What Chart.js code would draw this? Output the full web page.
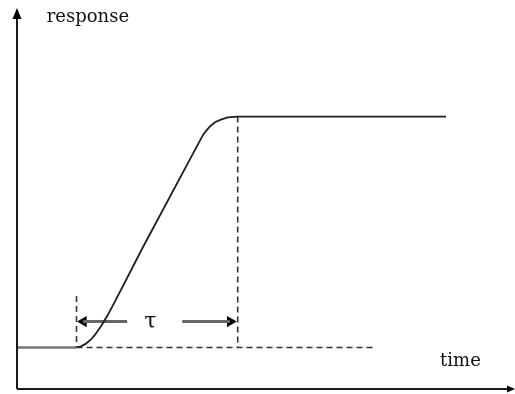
<!DOCTYPE html>
<html lang="en">
<head>
<meta charset="UTF-8">
<title>response</title>
<script src="https://cdn.jsdelivr.net/npm/chart.js@4.4.1/dist/chart.umd.min.js"></script>
<style>
  body { margin: 0; background: #fff; }
</style>
</head>
<body>
<canvas id="myChart" width="515" height="394"></canvas>
<script>
// step response, time and response in arbitrary units (axes go 0..100)
var curveTime     = [0, 11.9, 12.9, 13.9, 14.9, 15.7, 16.9, 18.3, 20.6, 25.3, 37.5, 38.1, 38.9, 39.9, 41.1, 42.5, 44.4, 86.5]
var curveResponse = [10.9, 10.9, 11.2, 11.9, 13.0, 14.2, 16.4, 19.4, 25.1, 37.0, 66.7, 67.7, 68.9, 70.0, 70.7, 71.3, 71.5, 71.5]

// dashed guide lines
var baseLineTime = [12.0, 71.8]
var baseLineResp = [10.9, 10.9]
var startMarkTime = [12.0, 12.0]
var startMarkResp = [24.4, 10.9]
var endMarkTime = [44.5, 44.5]
var endMarkResp = [71.5, 10.9]

// tau arrows: shafts and arrow heads
var tauResp = 17.7
var leftShaftTime = [13.3, 22.2]
var rightShaftTime = [33.3, 42.9]
var headTime = [13.4, 43.0]
var headRotation = [-90, 90]

// texts
var labelTexts = ["response", "time", "\u03C4"]
var labelTime  = [6.0, 85.3, 26.9]
var labelResp  = [96.4, 6.0, 16.0]
var labelAlign = ["left", "left", "center"]
var labelSize  = [18, 18, 22]

function pts(xs, ys){
  return xs.map((x, i) => ({x: x, y: ys[i]}))
}

var dashStyle = {
  borderColor: "#333",
  borderWidth: 1.6,
  borderDash: [6, 4],
  pointRadius: 0,
  showLine: true,
  fill: false
}

var shaftStyle = {
  borderColor: "#666",
  borderWidth: 3,
  pointRadius: 0,
  showLine: true
}

// axes with arrow heads + text labels
var extrasPlugin = {
  id: "extras",
  afterDatasetsDraw(chart){
    const ctx = chart.ctx
    const sx = chart.scales.x, sy = chart.scales.y
    const x0 = sx.getPixelForValue(0), y0 = sy.getPixelForValue(0)
    const xEnd = sx.getPixelForValue(100), yEnd = sy.getPixelForValue(100)
    ctx.save()
    ctx.strokeStyle = "#1a1a1a"
    ctx.fillStyle = "#000"
    ctx.lineWidth = 2
    ctx.beginPath()
    ctx.moveTo(x0, y0)
    ctx.lineTo(x0, yEnd + 8)
    ctx.moveTo(x0, y0)
    ctx.lineTo(xEnd - 3, y0)
    ctx.stroke()
    // up arrow
    ctx.beginPath()
    ctx.moveTo(x0, yEnd)
    ctx.lineTo(x0 - 4.5, yEnd + 11)
    ctx.lineTo(x0 + 4.5, yEnd + 11)
    ctx.closePath()
    ctx.fill()
    // right arrow
    ctx.beginPath()
    ctx.moveTo(xEnd + 2, y0)
    ctx.lineTo(xEnd - 6, y0 - 3.5)
    ctx.lineTo(xEnd - 6, y0 + 3.5)
    ctx.closePath()
    ctx.fill()

    ctx.fillStyle = "#111"
    ctx.textBaseline = "alphabetic"
    labelTexts.forEach((t, i) => {
      ctx.font = labelSize[i] + "px 'DejaVu Serif', serif"
      ctx.textAlign = labelAlign[i]
      ctx.fillText(t, sx.getPixelForValue(labelTime[i]), sy.getPixelForValue(labelResp[i]))
    })
    ctx.restore()
  }
}

var ctx = document.getElementById("myChart")
var myChart = new Chart(ctx.getContext("2d"), {
  type: "scatter",
  data: {
    datasets: [
      Object.assign({data: pts(baseLineTime, baseLineResp)}, dashStyle),
      Object.assign({data: pts(startMarkTime, startMarkResp)}, dashStyle),
      Object.assign({data: pts(endMarkTime, endMarkResp)}, dashStyle),
      {
        data: pts(curveTime, curveResponse),
        showLine: true,
        tension: 0,
        borderWidth: 2,
        pointRadius: 0,
        segment: {
          borderColor: c => c.p0DataIndex == 0 ? "#777" : "#1e1e1e",
          borderWidth: c => c.p0DataIndex == 0 ? 2.6 : 1.8
        }
      },
      Object.assign({data: pts(leftShaftTime, [tauResp, tauResp])}, shaftStyle),
      Object.assign({data: pts(rightShaftTime, [tauResp, tauResp])}, shaftStyle),
      {
        data: pts(headTime, [tauResp, tauResp]),
        showLine: false,
        pointStyle: "triangle",
        rotation: headRotation,
        pointRadius: 6.5,
        pointBackgroundColor: "#000",
        pointBorderWidth: 0,
        clip: false
      }
    ]
  },
  options: {
    responsive: false,
    animation: false,
    layout: { autoPadding: false, padding: { left: 17, top: 8, right: 2, bottom: 5 } },
    plugins: { legend: { display: false }, tooltip: { enabled: false } },
    scales: {
      x: { type: "linear", min: 0, max: 100, display: false },
      y: { type: "linear", min: 0, max: 100, display: false }
    }
  },
  plugins: [extrasPlugin]
})
</script>
</body>
</html>
